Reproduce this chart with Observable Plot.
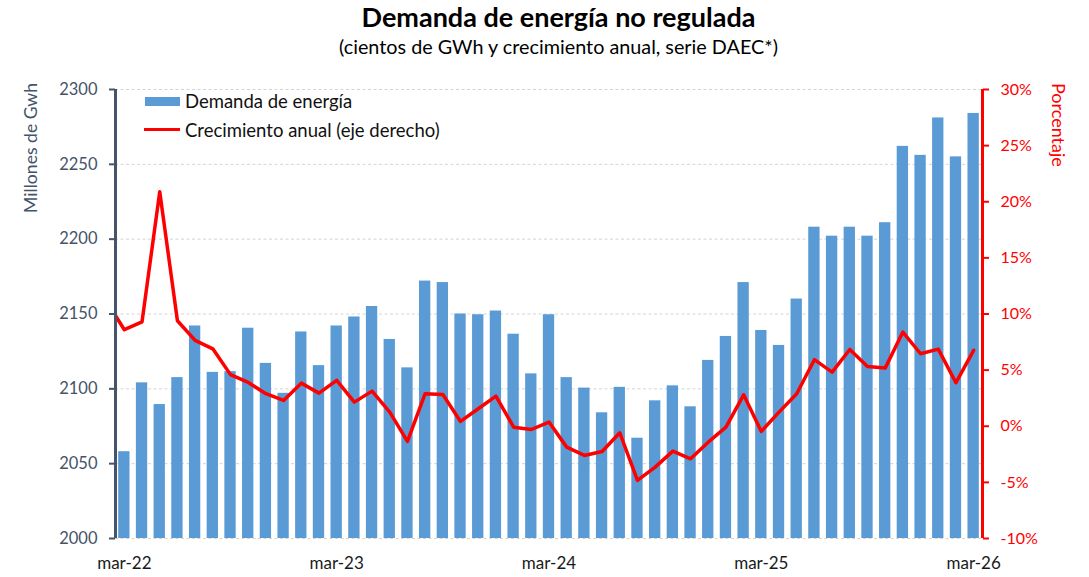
<!DOCTYPE html>
<html><head><meta charset="utf-8">
<script src="https://cdn.jsdelivr.net/npm/d3@7"></script>
<script src="https://cdn.jsdelivr.net/npm/@observablehq/plot@0.6"></script>
<style>
body{margin:0;background:#fff;font-family:Lato,sans-serif;}
#wrap{position:relative;width:1089px;height:577px;overflow:hidden;}
#chart{position:absolute;left:0;top:0;}
.t{position:absolute;white-space:nowrap;}
#title{left:0;width:1117px;top:1px;text-align:center;font-size:27px;line-height:32px;font-weight:bold;color:#000;}
#subtitle{left:0;width:1117px;top:34px;text-align:center;font-size:19.8px;line-height:24px;color:#000;}
#ylab{left:21px;top:83px;font-size:17.6px;line-height:20px;color:#44546A;writing-mode:vertical-rl;transform:rotate(180deg);}
#y2lab{left:1049px;top:83px;font-size:18px;line-height:20px;color:#FF0000;writing-mode:vertical-rl;}
.legt{font-size:18.5px;line-height:22px;color:#111;}
</style></head><body>
<div id="wrap">
  <div id="chart"></div>
  <div class="t" id="title">Demanda de energía no regulada</div>
  <div class="t" id="subtitle">(cientos de GWh y crecimiento anual, serie DAEC*)</div>
  <div class="t" id="ylab">Millones de Gwh</div>
  <div class="t" id="y2lab">Porcentaje</div>
  <div class="t" style="left:145px;top:97px;width:35px;height:9px;background:#5B9BD5"></div>
  <div class="t legt" style="left:185px;top:90px;">Demanda de energía</div>
  <div class="t" style="left:144px;top:128px;width:36px;height:3px;background:#FF0000"></div>
  <div class="t legt" style="left:185px;top:119px;">Crecimiento anual (eje derecho)</div>
</div>
<script>
const months = [
  "mar-22","abr-22","may-22","jun-22","jul-22","ago-22","sep-22","oct-22","nov-22","dic-22","ene-23","feb-23",
  "mar-23","abr-23","may-23","jun-23","jul-23","ago-23","sep-23","oct-23","nov-23","dic-23","ene-24","feb-24",
  "mar-24","abr-24","may-24","jun-24","jul-24","ago-24","sep-24","oct-24","nov-24","dic-24","ene-25","feb-25",
  "mar-25","abr-25","may-25","jun-25","jul-25","ago-25","sep-25","oct-25","nov-25","dic-25","ene-26","feb-26",
  "mar-26"
];
const demand = [
  2058, 2104, 2089.5, 2107.5, 2142, 2111, 2111.5, 2140.5, 2117, 2097, 2138, 2115.5,
  2142, 2148, 2155, 2133, 2114, 2172, 2171, 2150, 2149.5, 2152, 2136.5, 2110,
  2149.5, 2107.5, 2100.5, 2084, 2101, 2067, 2092, 2102, 2088, 2119, 2135, 2171,
  2139, 2129, 2160, 2208, 2202, 2208, 2202, 2211, 2262, 2256, 2281, 2255,
  2284
];
// growth series starts one month earlier (feb-22), partially clipped at the frame
const growthMonths = ["feb-22"].concat(months);
const growth = [
  11.1,
  8.6, 9.3, 20.9, 9.4, 7.65, 6.9, 4.6, 3.9, 2.9, 2.3, 3.84, 2.95,
  4.08, 2.15, 3.13, 1.26, -1.35, 2.9, 2.83, 0.43, 1.56, 2.68, -0.08, -0.29,
  0.37, -1.86, -2.6, -2.25, -0.58, -4.83, -3.64, -2.22, -2.9, -1.42, -0.08, 2.8,
  -0.46, 1.26, 2.9, 5.93, 4.82, 6.84, 5.33, 5.18, 8.39, 6.46, 6.87, 3.88,
  6.76
];
const leftTicks = [2000, 2050, 2100, 2150, 2200, 2250, 2300];
const rightTicks = [-10, -5, 0, 5, 10, 15, 20, 25, 30];
const xTickLabels = ["mar-22", "mar-23", "mar-24", "mar-25", "mar-26"];

const yMin = 2000, yMax = 2300, gMin = -10, gMax = 30;
const toY = g => yMin + (g - gMin) * (yMax - yMin) / (gMax - gMin);
const fromY = v => Math.round((v - yMin) * (gMax - gMin) / (yMax - yMin) + gMin);

const bars = months.map((m, i) => ({i, v: demand[i]}));
const line = growthMonths.map((m, j) => ({i: j - 1, g: growth[j]}));
const xTicks = xTickLabels.map(l => months.indexOf(l));

const chart = Plot.plot({
  width: 1089, height: 577,
  marginLeft: 115, marginRight: 107, marginTop: 89, marginBottom: 39,
  x: {type: "linear", domain: [-0.5, months.length - 0.5]},
  y: {domain: [yMin, yMax]},
  style: {fontFamily: "Lato, sans-serif", fontSize: "16px", background: "transparent", overflow: "visible"},
  marks: [
    Plot.ruleY(leftTicks, {stroke: "#d4d4d4", strokeDasharray: "3,2.5", strokeWidth: 1}),
    Plot.rectY(bars, {x1: d => d.i - 0.32, x2: d => d.i + 0.32, y1: yMin, y2: "v", fill: "#5B9BD5"}),
    Plot.line(line, {x: "i", y: d => toY(d.g), stroke: "#FF0000", strokeWidth: 3.5, strokeLinejoin: "round", clip: true}),
    Plot.axisY({ticks: leftTicks, anchor: "left", tickFormat: d => String(d), tickSize: 6, tickPadding: 12, color: "#44546A", strokeWidth: 2, fontSize: 16.5, label: null}),
    Plot.axisY({ticks: rightTicks.map(toY), anchor: "right", tickFormat: v => fromY(v) + "%", tickSize: 6, tickPadding: 12, color: "#FF0000", strokeWidth: 2, fontSize: 16, label: null}),
    Plot.ruleX([-0.5], {stroke: "#44546A", strokeWidth: 3}),
    Plot.ruleX([months.length - 0.5], {stroke: "#FF0000", strokeWidth: 3}),
    Plot.axisX({ticks: xTicks, tickFormat: i => months[i], tickSize: 0, tickPadding: 18, fontSize: 17, color: "#1a1a1a", label: null})
  ]
});
document.getElementById("chart").appendChild(chart);
</script>
</body></html>
